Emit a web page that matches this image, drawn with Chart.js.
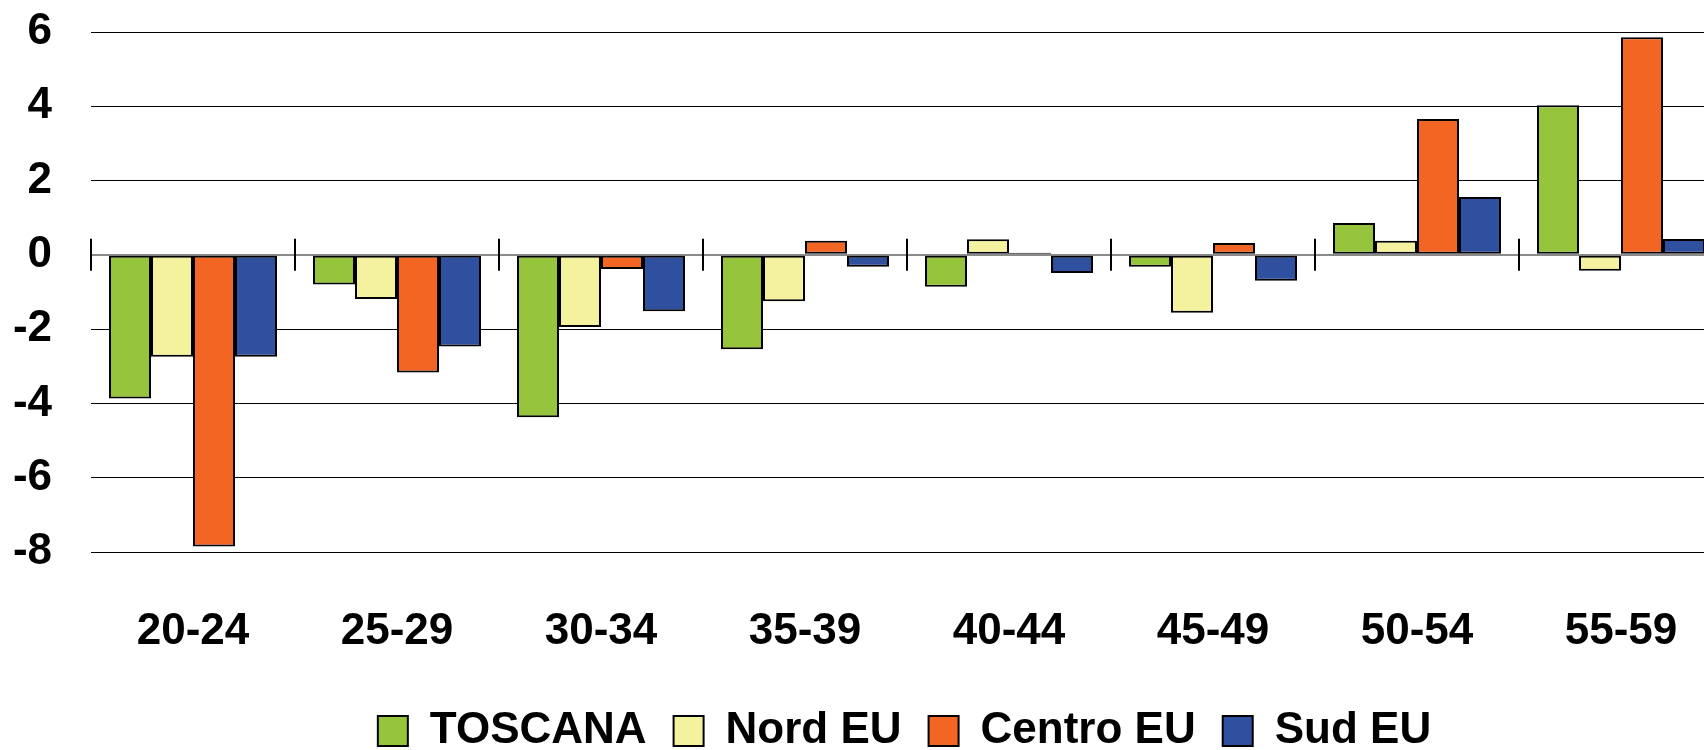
<!DOCTYPE html>
<html>
<head>
<meta charset="utf-8">
<script src="https://cdn.jsdelivr.net/npm/chart.js@4"></script>
<style>
    html, body { margin: 0; padding: 0; background: #fff; overflow: hidden; }
    #wrap { width: 1809px; height: 750px; position: relative; }
</style>
</head>
<body>
<div id="wrap"><canvas id="chart"></canvas></div>
<script>
var ageGroups = ['20-24', '25-29', '30-34', '35-39', '40-44', '45-49', '50-54', '55-59'];
var toscana = [-3.87, -0.80, -4.37, -2.54, -0.86, -0.32, 0.86, 4.03];
var nordEU = [-2.74, -1.19, -1.94, -1.25, 0.42, -1.56, 0.38, -0.43];
var centroEU = [-7.85, -3.17, -0.38, 0.38, 0.06, 0.32, 3.66, 5.86];
var sudEU = [-2.74, -2.47, -1.52, -0.32, -0.49, -0.70, 1.56, 0.43];
var yTicks = [6, 4, 2, 0, -2, -4, -6, -8];

var fontFamily = "'Liberation Sans Narrow', 'Liberation Sans', Arial, sans-serif";

// little marks across the zero line at each category boundary
var zeroTicks = {
    id: 'zeroTicks',
    afterDraw: function(chart) {
        var x = chart.scales.x;
        var y = chart.scales.y;
        var y0 = y.getPixelForValue(0);
        var step = x.getPixelForValue(1) - x.getPixelForValue(0);
        var ctx = chart.ctx;
        ctx.save();
        ctx.strokeStyle = '#000';
        ctx.lineWidth = 2;
        for (var i = 0; i <= ageGroups.length; i++) {
            var px = x.getPixelForValue(0) + (i - 0.5) * step;
            ctx.beginPath();
            ctx.moveTo(px, y0 - 16);
            ctx.lineTo(px, y0 + 16);
            ctx.stroke();
        }
        ctx.restore();
    }
};

function makeSet(label, data, color) {
    return {
        label: label,
        data: data,
        backgroundColor: color,
        borderColor: '#000',
        borderWidth: 2,
        borderSkipped: false,
        categoryPercentage: 0.8235,
        barPercentage: 1.0
    };
}

new Chart(document.getElementById('chart'), {
    type: 'bar',
    data: {
        labels: ageGroups,
        datasets: [
            makeSet('TOSCANA', toscana, '#96C43C'),
            makeSet('Nord EU', nordEU, '#F4F29E'),
            makeSet('Centro EU', centroEU, '#F26522'),
            makeSet('Sud EU', sudEU, '#2F4F9F')
        ]
    },
    options: {
        responsive: true,
        maintainAspectRatio: false,
        animation: false,
        layout: { padding: { top: 32, bottom: -13, left: 0, right: 0 } },
        plugins: {
            tooltip: { enabled: false },
            legend: {
                position: 'bottom',
                labels: {
                    color: '#000',
                    font: { family: fontFamily, size: 44, weight: 'bold' },
                    boxWidth: 30,
                    boxHeight: 30,
                    padding: 27
                }
            }
        },
        scales: {
            x: {
                grid: { display: false, drawTicks: false },
                border: { display: false },
                ticks: {
                    color: '#000',
                    font: { family: fontFamily, size: 44, weight: 'bold' },
                    padding: 53,
                    maxRotation: 0
                },
                afterFit: function(scale) { scale.height = 130; }
            },
            y: {
                min: -8,
                max: 6,
                afterBuildTicks: function(scale) {
                    scale.ticks = yTicks.map(function(v) { return { value: v }; });
                },
                grid: {
                    drawTicks: false,
                    color: function(c) { return c.tick && c.tick.value === 0 ? '#8a8a8a' : '#000'; },
                    lineWidth: function(c) { return c.tick && c.tick.value === 0 ? 2 : 1; }
                },
                border: { display: false },
                ticks: {
                    color: '#000',
                    font: { family: fontFamily, size: 44, weight: 'bold' },
                    padding: 39
                },
                afterFit: function(scale) {
                    scale.width = 91;
                    scale.paddingTop = 0;
                    scale.paddingBottom = 0;
                }
            },
            y2: {
                position: 'right',
                display: true,
                grid: { display: false },
                border: { display: false },
                ticks: { display: false },
                afterFit: function(scale) { scale.width = 86; }
            }
        }
    },
    plugins: [zeroTicks]
});
</script>
</body>
</html>
